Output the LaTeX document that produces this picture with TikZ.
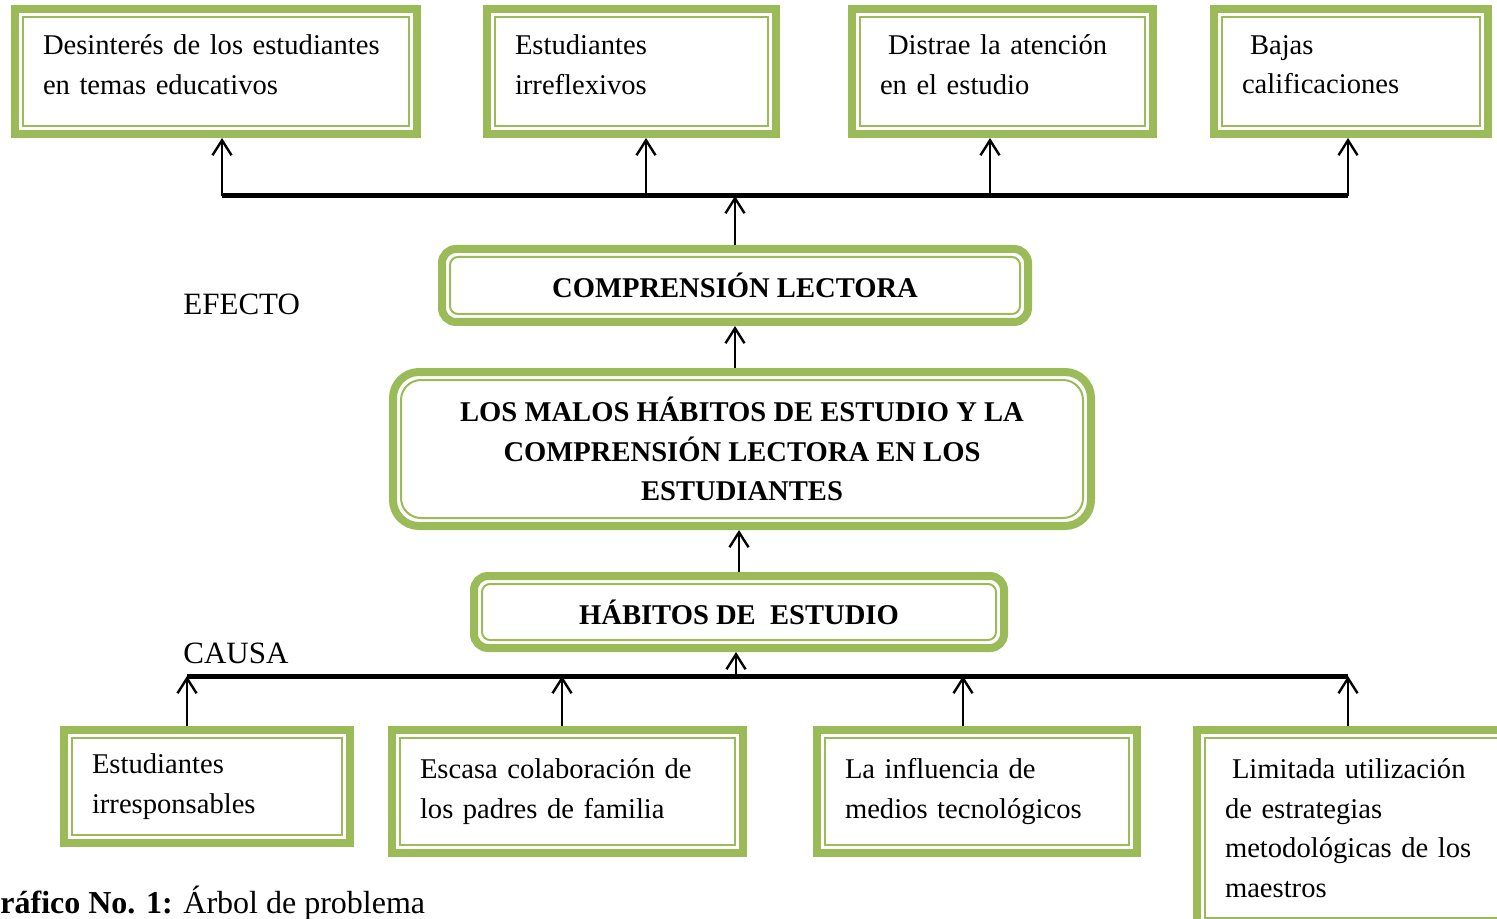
\documentclass[tikz,border=0pt]{standalone}
\usepackage{fontspec}
\setmainfont{Liberation Serif}
\usetikzlibrary{arrows.meta}
\definecolor{leafgreen}{HTML}{9BBB59}
\newcommand{\boxfont}{\fontsize{14.3}{19.75}\selectfont}
\newcommand{\lift}{\rule[-7pt]{0pt}{0pt}}
\tikzset{
  leafbox/.style={draw=leafgreen, line width=4pt, rectangle, inner xsep=14pt,
    inner ysep=0pt, align=left, font=\boxfont,
    path picture={\draw[leafgreen, line width=1pt]
      ([shift={(4pt,4pt)}]path picture bounding box.south west) rectangle
      ([shift={(-4pt,-4pt)}]path picture bounding box.north east);}},
  trunkbox/.style={draw=leafgreen, line width=4pt, rectangle, rounded corners=#1,
    inner sep=0pt, align=center, font=\boxfont\bfseries,
    path picture={\draw[leafgreen, line width=1pt, rounded corners=#1-3pt]
      ([shift={(4pt,4pt)}]path picture bounding box.south west) rectangle
      ([shift={(-4pt,-4pt)}]path picture bounding box.north east);}},
  side/.style={anchor=west, inner sep=0pt, font=\fontsize{15.5}{18}\selectfont},
  bar/.style={line width=2.5pt},
  up/.style={line width=1.2pt, -{Straight Barb[length=7.5pt,width=9.5pt,line width=1.2pt]}}
}
\begin{document}
\begin{tikzpicture}[x=0.5pt,y=-0.5pt]
      \useasboundingbox (0,0) rectangle (1497,919);
      \clip (0,0) rectangle (1497,919);
      % efectos
      \draw
        (216,71.5) node[leafbox, text width=173pt, minimum height=62.5pt] (t1)
          {Desinterés de los estudiantes\\en temas educativos\lift}
        (631.5,71.5) node[leafbox, text width=116.5pt, minimum height=62.5pt] (t2)
          {Estudiantes\\irreflexivos\lift}
        (1002.5,71.5) node[leafbox, text width=122.5pt, minimum height=62.5pt] (t3)
          {\hspace*{4pt}Distrae la atención\\en el estudio\lift}
        (1351,71.5) node[leafbox, text width=109pt, minimum height=62.5pt] (t4)
          {\hspace*{4pt}Bajas\\calificaciones\lift};
      % tronco
      \draw
        (735,285.5) node[trunkbox=7pt, minimum width=293pt, minimum height=36.5pt] (com)
          {COMPRENSIÓN LECTORA}
        (742,449) node[trunkbox=13pt, minimum width=349pt, minimum height=77pt] (prob)
          {LOS MALOS HÁBITOS DE ESTUDIO Y LA\\COMPRENSIÓN LECTORA EN LOS\\ESTUDIANTES}
        (739,612) node[trunkbox=7pt, minimum width=265pt, minimum height=36pt] (hab)
          {HÁBITOS DE\ \ ESTUDIO};
      % causas
      \draw
        (207,786.5) node[leafbox, text width=115pt, minimum height=56.5pt] (b1)
          {Estudiantes\\irresponsables}
        (567.5,791.5) node[leafbox, text width=147.5pt, minimum height=61.5pt] (b2)
          {Escasa colaboración de\\los padres de familia}
        (977,791.5) node[leafbox, text width=132pt, minimum height=61.5pt] (b3)
          {La influencia de\\medios tecnológicos}
        (1351.5,828) node[leafbox, text width=126.5pt, minimum height=98pt] (b4)
          {\hspace*{3.5pt}Limitada utilización\\de estrategias\\metodológicas de los\\maestros};
      \node[side] (efecto) at (183,304) {EFECTO};
      \node[side] (causa) at (183,653) {CAUSA};
      \node[side, font=\fontsize{16}{18}\selectfont] (cap) at (0,903)
        {\textbf{ráfico No. 1:} Árbol de problema};
      \coordinate (e1) at (222,196);
      \coordinate (e2) at (646,196);
      \coordinate (e3) at (990,196);
      \coordinate (e4) at (1348,196);
      \coordinate (c0) at (736,676);
      \coordinate (c1) at (187,676);
      \coordinate (c2) at (562,676);
      \coordinate (c3) at (963,676);
      \coordinate (c4) at (1348,676);
      \draw[bar] (e1) to (e4);
      \draw[bar] (c1) to (c4);
      \begin{scope}[up]
        \draw (e1) to (e1 |- t1.south);
        \draw (e2) to (e2 |- t2.south);
        \draw (e3) to (e3 |- t3.south);
        \draw (e4) to (e4 |- t4.south);
        \draw (com.north) to (com.north |- e1);
        \draw (com.south |- prob.north) to (com.south);
        \draw (hab.north) to (hab.north |- prob.south);
        \draw (c0) to (c0 |- hab.south);
        \draw (c1 |- b1.north) to (c1);
        \draw (c2 |- b2.north) to (c2);
        \draw (c3 |- b3.north) to (c3);
        \draw (c4 |- b4.north) to (c4);
      \end{scope}
    \end{tikzpicture}
\end{document}
